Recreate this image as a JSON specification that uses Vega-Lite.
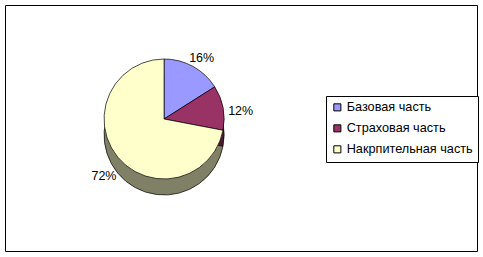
{
  "$schema": "https://vega.github.io/schema/vega-lite/v6.json",
  "width": 483,
  "height": 257,
  "autosize": {"type": "fit", "contains": "padding"},
  "padding": {"left": 5, "top": 5, "right": 6, "bottom": 6},
  "background": "white",
  "view": {"stroke": "black", "strokeWidth": 1, "fill": "white"},
  "config": {
    "view": {"stroke": "black", "strokeWidth": 1},
    "font": "Liberation Sans",
    "text": {"font": "Liberation Sans"}
  },
  "data": {
    "values": [
      {"cat": "Базовая часть", "share": 0.16, "idx": 1},
      {"cat": "Страховая часть", "share": 0.12, "idx": 2},
      {"cat": "Накрпительная часть", "share": 0.72, "idx": 3}
    ]
  },
  "layer": [
    {
      "mark": {
        "type": "arc",
        "outerRadius": 60,
        "x": {"expr": "width*0.337"},
        "y": {"expr": "height/2+7"},
        "stroke": "black",
        "strokeWidth": 0.7
      },
      "encoding": {
        "theta": {"field": "share", "type": "quantitative", "stack": true},
        "order": {"field": "idx", "type": "quantitative"},
        "color": {
          "field": "cat",
          "type": "nominal",
          "sort": ["Базовая часть", "Страховая часть", "Накрпительная часть"],
          "scale": {
            "domain": ["Базовая часть", "Страховая часть", "Накрпительная часть"],
            "range": ["#4D4D80", "#4D1A33", "#808066"]
          },
          "legend": null
        }
      }
    },
    {
      "mark": {
        "type": "arc",
        "outerRadius": 60,
        "x": {"expr": "width*0.337"},
        "y": {"expr": "height/2-9"},
        "stroke": "black",
        "strokeWidth": 0.7
      },
      "encoding": {
        "theta": {"field": "share", "type": "quantitative", "stack": true},
        "order": {"field": "idx", "type": "quantitative"},
        "color": {
          "field": "cat",
          "type": "nominal",
          "sort": ["Базовая часть", "Страховая часть", "Накрпительная часть"],
          "scale": {
            "domain": ["Базовая часть", "Страховая часть", "Накрпительная часть"],
            "range": ["#9999FF", "#993366", "#FFFFCC"]
          },
          "legend": {
            "title": null,
            "orient": "none",
            "legendX": 321,
            "legendY": 91,
            "strokeColor": "black",
            "fillColor": "white",
            "padding": 5,
            "symbolType": "square",
            "symbolSize": 50,
            "symbolStrokeColor": "black",
            "symbolStrokeWidth": 1,
            "labelFont": "Liberation Sans",
            "labelFontSize": 12.7,
            "labelColor": "black",
            "labelLimit": 220,
            "rowPadding": 7,
            "labelOffset": 3
          }
        }
      }
    },
    {
      "mark": {
        "type": "text",
        "radius": 78,
        "x": {"expr": "width*0.337"},
        "y": {"expr": "height/2-2"},
        "font": "Liberation Sans",
        "fontSize": 12.5,
        "fill": "black"
      },
      "encoding": {
        "theta": {"field": "share", "type": "quantitative", "stack": true},
        "order": {"field": "idx", "type": "quantitative"},
        "detail": {"field": "cat", "type": "nominal"},
        "text": {"field": "share", "type": "quantitative", "format": ".0%"}
      }
    }
  ],
  "resolve": {"scale": {"color": "independent"}}
}
